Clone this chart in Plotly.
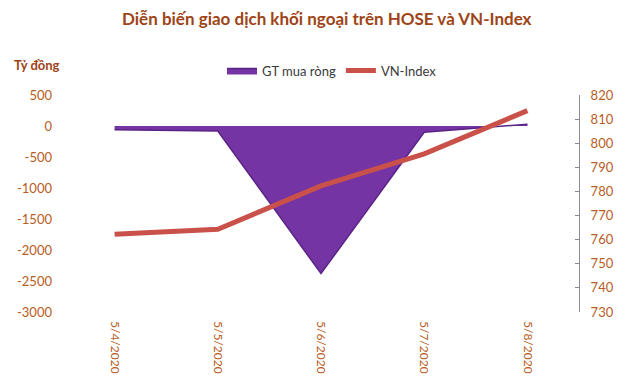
import plotly.graph_objects as go

dates = ["5/4/2020", "5/5/2020", "5/6/2020", "5/7/2020", "5/8/2020"]
net_buy = [-60, -80, -2380, -100, 30]
vn_index = [762.2, 764.3, 782.3, 795.6, 813.5]
left_ticks = [500, 0, -500, -1000, -1500, -2000, -2500, -3000]
right_ticks = [820, 810, 800, 790, 780, 770, 760, 750, 740, 730]

x_idx = list(range(len(dates)))

TICK_COLOR = "#B85C24"
TITLE_COLOR = "#9E4416"
FONT = "Lato"

fig = go.Figure()
fig.add_trace(go.Scatter(
    x=x_idx, y=net_buy, name="GT mua ròng", mode="lines",
    fill="tozeroy", fillcolor="#7434A4",
    line=dict(color="#5B2386", width=1.5),
    yaxis="y",
))
fig.add_trace(go.Scatter(
    x=x_idx, y=vn_index, name="VN-Index", mode="lines",
    line=dict(color="#C9514A", width=5),
    yaxis="y2",
))

fig.update_layout(
    width=630, height=386,
    margin=dict(l=63, r=51, t=95, b=69),
    paper_bgcolor="white", plot_bgcolor="white",
    font=dict(family=FONT, color=TICK_COLOR, size=12),
    showlegend=True,
    legend=dict(orientation="h", x=(332 - 63) / 516, xanchor="center",
                y=1 + (95 - 70) / 222, yanchor="middle",
                font=dict(color="#3A3A3A", size=13, family=FONT),
                bgcolor="rgba(0,0,0,0)", itemwidth=30, tracegroupgap=0),
    xaxis=dict(
        range=[-0.5, 4.5], tickmode="array", tickvals=x_idx, ticktext=dates,
        tickangle=90, showgrid=False, zeroline=False, showline=False,
        ticks="", ticklabelstandoff=8,
        tickfont=dict(color=TICK_COLOR, size=12, family=FONT),
    ),
    yaxis=dict(
        range=[-3000, 500], tickmode="array", tickvals=left_ticks,
        ticktext=[str(v) for v in left_ticks],
        showgrid=False, zeroline=False, showline=False, ticks="",
        ticklabelstandoff=10,
        tickfont=dict(color=TICK_COLOR, size=13, family=FONT),
    ),
    yaxis2=dict(
        range=[730, 820], tickmode="array", tickvals=right_ticks,
        overlaying="y", side="right",
        showgrid=False, zeroline=False, showline=True, linecolor="#8C8C8C", linewidth=1,
        ticks="inside", ticklen=4, tickcolor="#8C8C8C",
        ticklabelstandoff=8,
        tickfont=dict(color=TICK_COLOR, size=13, family=FONT),
    ),
    annotations=[
        dict(text="<b>Diễn biến giao dịch khối ngoại trên HOSE và VN-Index</b>",
             xref="paper", yref="paper", x=(327 - 63) / (630 - 63 - 51), y=1.0,
             xanchor="center", yanchor="middle", yshift=95 - 18,
             font=dict(size=17, color=TITLE_COLOR, family=FONT), showarrow=False),
        dict(text="<b>Tỷ đồng</b>", xref="paper", yref="paper",
             x=0, y=1.0, xanchor="left", yanchor="middle",
             xshift=12 - 63, yshift=95 - 65,
             font=dict(size=13, color=TITLE_COLOR, family=FONT), showarrow=False),
    ],
)

fig.write_html("out.html")
